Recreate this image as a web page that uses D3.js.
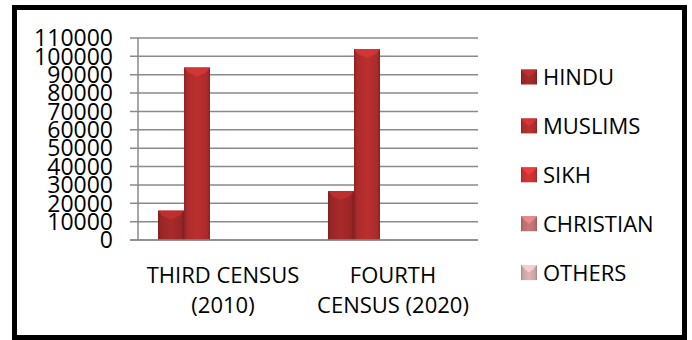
<!DOCTYPE html>
<html>
<head>
<meta charset="utf-8">
<script src="https://cdn.jsdelivr.net/npm/d3@7"></script>
<style>
  body { margin: 0; background: #fff; }
  svg { display: block; }
</style>
</head>
<body>
<div id="chart"></div>
<script>
// census groups and religions
const censuses = ["THIRD CENSUS (2010)", "FOURTH CENSUS (2020)"];
const censusLines = [["THIRD CENSUS", "(2010)"], ["FOURTH", "CENSUS (2020)"]];
const religions = ["HINDU", "MUSLIMS", "SIKH", "CHRISTIAN", "OTHERS"];

// values per religion, one per census
const hindu = [16000, 26700];
const muslims = [94000, 104000];
const sikh = [0, 0];
const christian = [0, 0];
const others = [0, 0];

const yTicks = [0, 10000, 20000, 30000, 40000, 50000, 60000, 70000, 80000, 90000, 100000, 110000];

const seriesValues = [hindu, muslims, sikh, christian, others];
const colors = ["#9a2626", "#ab2b2b", "#c23131", "#b96f6f", "#c9a5a5"];

const width = 692, height = 340;
const plot = { left: 138, right: 478, top: 38, bottom: 240 };

const svg = d3.select("#chart").append("svg")
    .attr("width", width)
    .attr("height", height);

// gradients for the bevelled bars
const defs = svg.append("defs");
colors.forEach((c, i) => {
    const g = defs.append("linearGradient").attr("id", "grad" + i)
        .attr("x1", 0).attr("x2", 1).attr("y1", 0).attr("y2", 0);
    g.append("stop").attr("offset", "0%").attr("stop-color", d3.color(c).darker(0.6));
    g.append("stop").attr("offset", "12%").attr("stop-color", c);
    g.append("stop").attr("offset", "50%").attr("stop-color", d3.color(c).brighter(0.25));
    g.append("stop").attr("offset", "88%").attr("stop-color", c);
    g.append("stop").attr("offset", "100%").attr("stop-color", d3.color(c).darker(0.6));
});

const x0 = d3.scaleBand().domain(censuses).range([plot.left, plot.right]);
const x1 = d3.scaleBand().domain(religions).range([0, x0.bandwidth()]).paddingOuter(0.77);
const y = d3.scaleLinear().domain([0, 110000]).range([plot.bottom, plot.top]);

// gridlines
svg.append("g")
    .selectAll("line")
    .data(yTicks)
    .join("line")
    .attr("x1", plot.left - 8)
    .attr("x2", plot.right)
    .attr("y1", d => y(d))
    .attr("y2", d => y(d))
    .attr("stroke", "#8a8a8a")
    .attr("stroke-width", 1.5);

// y axis line
svg.append("line")
    .attr("x1", plot.left).attr("x2", plot.left)
    .attr("y1", plot.top).attr("y2", plot.bottom)
    .attr("stroke", "#8a8a8a").attr("stroke-width", 1.5);

// y tick labels
svg.append("g")
    .selectAll("text")
    .data(yTicks)
    .join("text")
    .attr("x", 113)
    .attr("y", d => y(d))
    .attr("dy", "0.36em")
    .attr("text-anchor", "end")
    .style("font-family", "'Open Sans', sans-serif")
    .style("font-size", "23px")
    .attr("fill", "#000")
    .text(d => d);

// bars
const flat = [];
censuses.forEach((c, i) => {
    religions.forEach((r, j) => {
        flat.push({ census: c, religion: r, idx: j, value: seriesValues[j][i] });
    });
});

const bars = svg.append("g").selectAll("g")
    .data(flat.filter(d => d.value > 0))
    .join("g");

bars.append("rect")
    .attr("x", d => x0(d.census) + x1(d.religion))
    .attr("y", d => y(d.value))
    .attr("width", x1.bandwidth())
    .attr("height", d => y(0) - y(d.value))
    .attr("fill", d => "url(#grad" + d.idx + ")");

// top bevel highlight
bars.append("path")
    .attr("d", d => {
        const bx = x0(d.census) + x1(d.religion), bw = x1.bandwidth(), by = y(d.value);
        return `M${bx},${by} L${bx + bw},${by} L${bx + bw - 4},${by + 5} L${bx + bw / 2},${by + 9} L${bx + 4},${by + 5} Z`;
    })
    .attr("fill", d => d3.color(colors[d.idx]).brighter(0.7))
    .attr("opacity", 0.8);

// x axis line
svg.append("line")
    .attr("x1", plot.left - 8).attr("x2", plot.right)
    .attr("y1", plot.bottom).attr("y2", plot.bottom)
    .attr("stroke", "#8a8a8a").attr("stroke-width", 1.5);

// x labels (two lines)
const xl = svg.append("g").selectAll("text")
    .data(censuses)
    .join("text")
    .attr("text-anchor", "middle")
    .style("font-family", "'Open Sans', sans-serif")
    .style("font-size", "22px")
    .attr("fill", "#000");
xl.each(function (d, i) {
    const t = d3.select(this);
    censusLines[i].forEach((line, k) => {
        t.append("tspan")
            .attr("x", x0(d) + x0.bandwidth() / 2)
            .attr("y", 283 + k * 30)
            .text(line);
    });
});

// legend
const legend = svg.append("g").selectAll("g")
    .data(religions)
    .join("g")
    .attr("transform", (d, i) => `translate(521,${77 + i * 48.9})`);

legend.append("rect")
    .attr("x", 0).attr("y", -7.5)
    .attr("width", 16).attr("height", 15)
    .attr("fill", (d, i) => "url(#grad" + i + ")");
legend.append("path")
    .attr("d", "M0,-7.5 L16,-7.5 L12,-3 L8,0 L4,-3 Z")
    .attr("fill", (d, i) => d3.color(colors[i]).brighter(0.7))
    .attr("opacity", 0.8);

legend.append("text")
    .attr("x", 22)
    .attr("y", 0)
    .attr("dy", "0.36em")
    .style("font-family", "'Open Sans', sans-serif")
    .style("font-size", "22px")
    .attr("fill", "#000")
    .text(d => d);

// outer frame
svg.append("rect")
    .attr("x", 14.5).attr("y", 7.5)
    .attr("width", 670).attr("height", 330)
    .attr("fill", "none")
    .attr("stroke", "#000")
    .attr("stroke-width", 5);
</script>
</body>
</html>
